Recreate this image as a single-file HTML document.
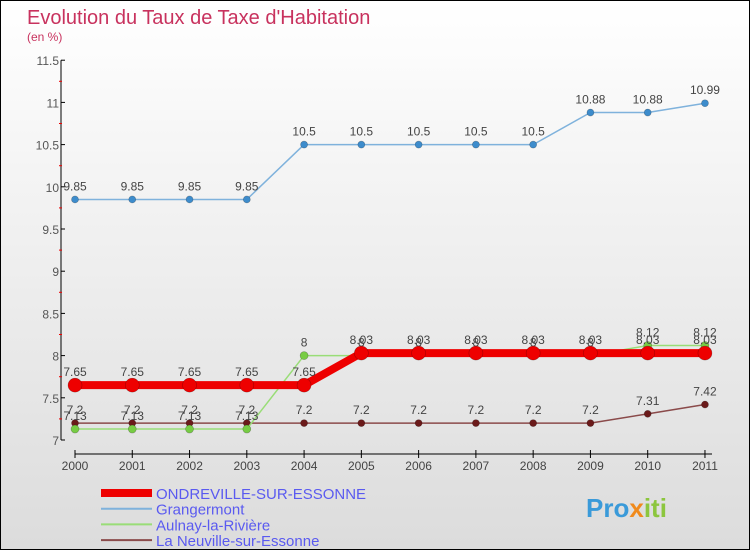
<!DOCTYPE html>
<html><head><meta charset="utf-8"><style>
body{margin:0;width:750px;height:550px;overflow:hidden;font-family:"Liberation Sans",sans-serif}
#wrap{position:relative;width:748px;height:548px;border:1px solid #000;background:linear-gradient(#fff,#dcdcdc)}
</style></head><body>
<div id="wrap">
<svg id="chart" width="748" height="548"></svg>
</div>
<script>
const years=[2000,2001,2002,2003,2004,2005,2006,2007,2008,2009,2010,2011];
const ondreville=[7.65,7.65,7.65,7.65,7.65,8.03,8.03,8.03,8.03,8.03,8.03,8.03];
const grangermont=[9.85,9.85,9.85,9.85,10.5,10.5,10.5,10.5,10.5,10.88,10.88,10.99];
const aulnay=[7.13,7.13,7.13,7.13,8,8,8,8,8,8,8.12,8.12];
const neuville=[7.2,7.2,7.2,7.2,7.2,7.2,7.2,7.2,7.2,7.2,7.31,7.42];
const yTicks=[7,7.5,8,8.5,9,9.5,10,10.5,11,11.5];
const NS='http://www.w3.org/2000/svg';
const svg=document.getElementById('chart');
const X=i=>74+i*57.27;
const Y=v=>439-(v-7)*84.4;
function mk(t,a,p){const e=document.createElementNS(NS,t);for(const k in a)e.setAttribute(k,a[k]);(p||svg).appendChild(e);return e;}
let t=mk('text',{x:26,y:23,'font-size':20,fill:'#c8325e'});t.textContent="Evolution du Taux de Taxe d'Habitation";


t=mk('text',{x:26,y:40,'font-size':12,fill:'#c8325e'});t.textContent="(en %)";


let ax=mk('line',{x1:60,y1:Y(11.5),x2:60,y2:Y(7),stroke:'#000'});


ax=mk('line',{x1:74,y1:453,x2:711,y2:453,stroke:'#000'});


yTicks.forEach(v=>{mk('line',{x1:60,y1:Y(v),x2:64,y2:Y(v),stroke:'#000'});
mk('line',{x1:58,y1:Y(v+0.25),x2:61,y2:Y(v+0.25),stroke:v<11.5?'#e00':'none'});
const l=mk('text',{x:58,y:Y(v)+5,'font-size':12,fill:'#555','text-anchor':'end'});l.textContent=String(v);

});
years.forEach((y,i)=>{mk('line',{x1:X(i),y1:449,x2:X(i),y2:457,stroke:'#000'});
const l=mk('text',{x:X(i),y:469,'font-size':12,fill:'#444','text-anchor':'middle'});l.textContent=y;

});
function series(vals,color,w,r,name,dot){
const g=mk('g',{});
mk('polyline',{points:vals.map((v,i)=>X(i)+','+Y(v)).join(' '),fill:'none',stroke:color,'stroke-width':w,'stroke-linejoin':'round'},g);
vals.forEach((v,i)=>{const c=mk('circle',{cx:X(i),cy:Y(v),r:r,fill:dot,stroke:'rgba(0,0,0,0.3)','stroke-width':0.6},g);

const l=mk('text',{x:X(i),y:Y(v)-9,'font-size':12,fill:'#444','text-anchor':'middle'},g);l.textContent=String(v);
});}
series(grangermont,'#7fb2dc',1.5,3.5,'series-grangermont','#3d8ccc');
series(neuville,'#8a4a4a',1.5,3.5,'series-la-neuville','#6b1a1a');
series(aulnay,'#99dd77',1.5,4,'series-aulnay','#77cc44');
series(ondreville,'#ee0000',8,7,'series-ondreville','#ee0000');
const leg=[['ONDREVILLE-SUR-ESSONNE','#ee0000',8],['Grangermont','#7fb2dc',2],['Aulnay-la-Rivière','#99dd77',2],['La Neuville-sur-Essonne','#8a4a4a',2]];
leg.forEach((d,i)=>{const g=mk('g',{});
const y=492+i*15.7;mk('line',{x1:100,y1:y,x2:151,y2:y,stroke:d[1],'stroke-width':d[2]},g);
const l=mk('text',{x:155,y:y+6,'font-size':15,fill:'#5a5af0'},g);l.textContent=d[0];});
const logo=mk('text',{x:585,y:516,'font-size':26,'font-weight':'bold',fill:'#3a9ad9'});

[['Pro','#3a9ad9'],['x','#f08a1c'],['iti','#8cc63e']].forEach(p=>{const s=mk('tspan',{fill:p[1]},logo);s.textContent=p[0];});
</script>
</body></html>
